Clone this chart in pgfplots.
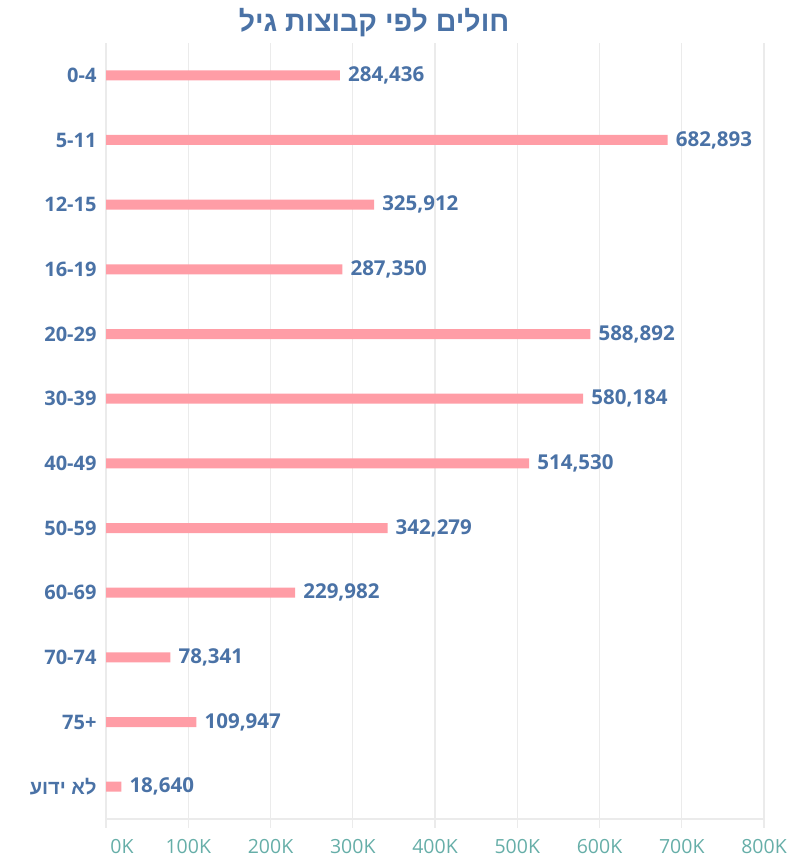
\documentclass[border=0pt]{standalone}
\usepackage{pgfplots}
\pgfplotsset{compat=1.18}
\usepackage{fontspec}
\setmainfont{Open Sans}
\newfontfamily\hebfont[Script=Hebrew]{Liberation Sans}
\TeXXeTstate=1
\definecolor{bluetxt}{HTML}{4A72A6}
\definecolor{barpink}{HTML}{FF9DA6}
\definecolor{tickteal}{HTML}{66AEA8}
\definecolor{gridgray}{HTML}{EBEBEB}
\begin{document}
\begin{tikzpicture}[x=1pt,y=1pt]
\path (0,0) rectangle (803,858);
\node[text=bluetxt, font=\hebfont\bfseries\fontsize{28.5}{28.5}\selectfont] at (374,835) {\beginR חולים לפי קבוצות גיל\endR};
\begin{axis}[
  at={(106pt,39pt)}, anchor=south west,
  scale only axis, width=658pt, height=776pt,
  xbar, bar width=10pt,
  xmin=0, xmax=800000, ymin=-0.5, ymax=11.5, y dir=reverse,
  scaled x ticks=false,
  axis x line*=bottom, axis y line*=left,
  axis line style={-},
  x axis line style={draw=gridgray, line width=1.2pt},
  y axis line style={draw=none},
  ytick={0,...,11},
  yticklabels={0-4,5-11,12-15,16-19,20-29,30-39,40-49,50-59,60-69,70-74,75+,{\hebfont\bfseries\beginR לא ידוע\endR}},
  ytick style={draw=none},
  yticklabel style={font=\bfseries\fontsize{20}{20}\selectfont, text=bluetxt, anchor=east, xshift=3pt},
  xtick={0,100000,200000,300000,400000,500000,600000,700000,800000},
  xticklabels={\hspace*{32pt}0K,100K,200K,300K,400K,500K,600K,700K,800K},
  xticklabel style={font=\fontsize{19.5}{19.5}\selectfont, text=tickteal, yshift=-8pt},
  tick align=outside, major tick length=9pt,
  xtick style={draw=gridgray, line width=1.2pt},
  xmajorgrids, grid style={draw=gridgray, line width=1.2pt},
  nodes near coords, point meta=explicit symbolic,
  nodes near coords style={font=\bfseries\fontsize{20.5}{20.5}\selectfont, text=bluetxt, anchor=west, inner sep=2pt, xshift=6pt},
]
\addplot[fill=barpink, draw=none] coordinates {
(284436,0) [284,436]
(682893,1) [682,893]
(325912,2) [325,912]
(287350,3) [287,350]
(588892,4) [588,892]
(580184,5) [580,184]
(514530,6) [514,530]
(342279,7) [342,279]
(229982,8) [229,982]
(78341,9) [78,341]
(109947,10) [109,947]
(18640,11) [18,640]
};
\end{axis}
\end{tikzpicture}
\end{document}
